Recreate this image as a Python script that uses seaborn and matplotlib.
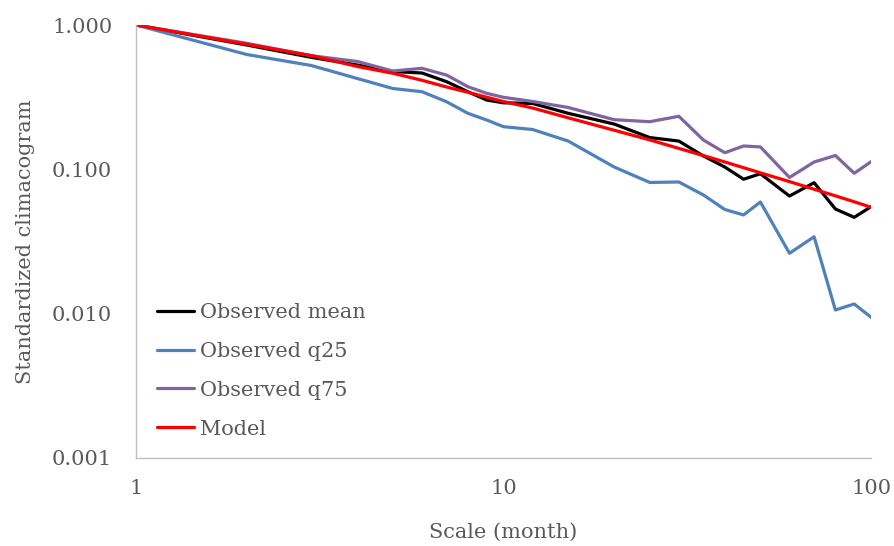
import matplotlib
matplotlib.use("Agg")
import matplotlib.pyplot as plt
import seaborn as sns
import pandas as pd
from matplotlib.ticker import NullLocator, FixedLocator, FixedFormatter

scales = [1, 2, 3, 4, 5, 6, 7, 8, 9, 10, 12, 15, 20, 25, 30, 35, 40, 45, 50, 60, 70, 80, 90, 100]

obs_mean = [1.000, 0.727, 0.597, 0.528, 0.476, 0.465, 0.405, 0.345, 0.302, 0.289, 0.286, 0.2444,
            0.206, 0.166, 0.157, 0.1237, 0.1038, 0.0854, 0.0932, 0.0653, 0.0808, 0.0531, 0.0465, 0.0551]
obs_q25 = [1.000, 0.625, 0.524, 0.426, 0.363, 0.345, 0.294, 0.2444, 0.2197, 0.1974, 0.1888, 0.157,
           0.1038, 0.0811, 0.0817, 0.0664, 0.0527, 0.0483, 0.0594, 0.0262, 0.0341, 0.0106, 0.01167, 0.00944]
obs_q75 = [1.000, 0.747, 0.613, 0.559, 0.480, 0.501, 0.450, 0.3737, 0.3363, 0.3155, 0.2951, 0.2682,
           0.2208, 0.2138, 0.2331, 0.1596, 0.1304, 0.1451, 0.143, 0.0878, 0.1124, 0.1247, 0.0939, 0.1129]
model = [1.000, 0.736, 0.614, 0.516, 0.463, 0.414, 0.372, 0.342, 0.316, 0.295, 0.266, 0.2275,
         0.1866, 0.160, 0.1396, 0.1245, 0.1125, 0.1026, 0.0946, 0.0822, 0.0728, 0.0655, 0.0596, 0.0546]

series_names = ["Observed mean", "Observed q25", "Observed q75", "Model"]
series_values = [obs_mean, obs_q25, obs_q75, model]
colors = ["#000000", "#4F81BD", "#8064A2", "#FF0000"]

rows = []
for name, vals in zip(series_names, series_values):
    for s, v in zip(scales, vals):
        rows.append({"scale": s, "value": v, "series": name})
df = pd.DataFrame(rows)

sns.set_theme(style="white")
plt.rcParams["font.family"] = ["DejaVu Serif"]
text_color = "#595959"

fig = plt.figure(figsize=(8.94, 5.46), dpi=100)
ax = fig.add_axes([0.1521, 0.1612, 0.8222, 0.7930])

sns.lineplot(data=df, x="scale", y="value", hue="series", hue_order=series_names,
             palette=dict(zip(series_names, colors)), sort=False, linewidth=2.3, ax=ax)

ax.set_xscale("log")
ax.set_yscale("log")
ax.set_xlim(1, 100)
ax.set_ylim(0.001, 1.0)

ax.xaxis.set_major_locator(FixedLocator([1, 10, 100]))
ax.xaxis.set_major_formatter(FixedFormatter(["1", "10", "100"]))
ax.yaxis.set_major_locator(FixedLocator([0.001, 0.01, 0.1, 1.0]))
ax.yaxis.set_major_formatter(FixedFormatter(["0.001", "0.010", "0.100", "1.000"]))
ax.xaxis.set_minor_locator(NullLocator())
ax.yaxis.set_minor_locator(NullLocator())

ax.tick_params(axis="x", length=0, pad=15, labelsize=15, labelcolor=text_color)
ax.tick_params(axis="y", length=0, pad=17, labelsize=15, labelcolor=text_color)

for side in ["top", "right"]:
    ax.spines[side].set_visible(False)
for side in ["left", "bottom"]:
    ax.spines[side].set_color("#BFBFBF")
    ax.spines[side].set_linewidth(1.0)

ax.set_xlabel("Scale (month)", fontsize=15, color=text_color, labelpad=18)
ax.set_ylabel("Standardized climacogram", fontsize=15, color=text_color, labelpad=12)
ax.grid(False)

leg = ax.legend(loc="lower left", bbox_to_anchor=(0.028, 0.045), frameon=False,
                fontsize=15, handlelength=1.8, handletextpad=0.3, labelspacing=0.95,
                borderpad=0, borderaxespad=0)
for t in leg.get_texts():
    t.set_color(text_color)

fig.savefig("out.png", dpi=100)
